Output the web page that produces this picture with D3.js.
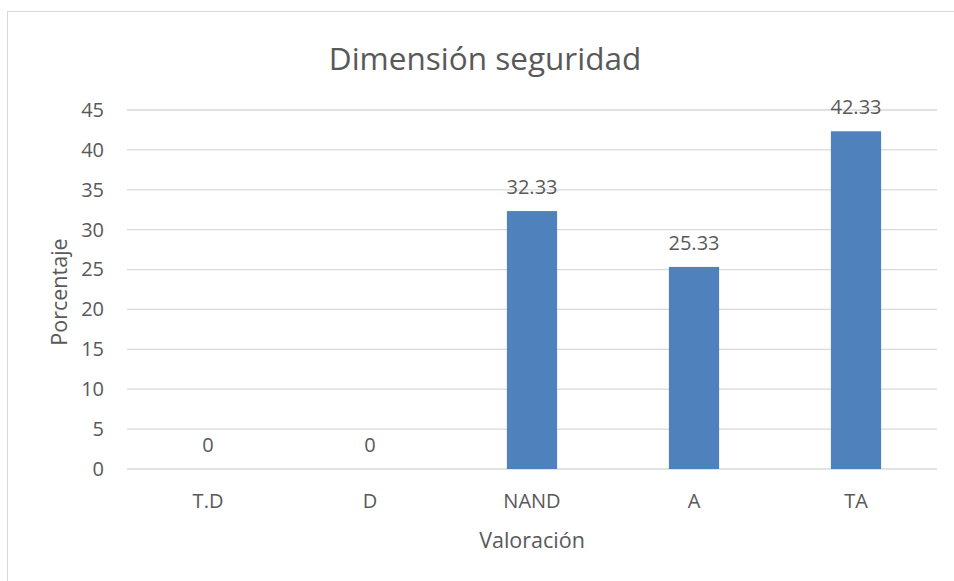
<!DOCTYPE html>
<html>
<head>
<meta charset="utf-8">
<script src="https://cdn.jsdelivr.net/npm/d3@7"></script>
<style>
  body { margin: 0; background: #fff; }
  text { font-family: "Open Sans", sans-serif; fill: #595959; }
</style>
</head>
<body>
<div id="chart"></div>
<script>
// data
const categories = ["T.D", "D", "NAND", "A", "TA"];
const values = [0, 0, 32.33, 25.33, 42.33];
const yTicks = [0, 5, 10, 15, 20, 25, 30, 35, 40, 45];

const W = 954, H = 581;
const margin = {top: 110, right: 17, bottom: 112, left: 127};
const width = W - margin.left - margin.right;
const height = H - margin.top - margin.bottom;

const svg = d3.select("#chart").append("svg")
  .attr("width", W)
  .attr("height", H);

// chart area border
svg.append("rect")
  .attr("x", 7.5).attr("y", 11.5)
  .attr("width", W + 10).attr("height", H + 10)
  .attr("fill", "none")
  .attr("stroke", "#d9d9d9");

const g = svg.append("g")
  .attr("transform", "translate(" + margin.left + "," + margin.top + ")");

const x = d3.scaleBand()
  .domain(categories)
  .range([0, width])
  .paddingInner(0.69)
  .paddingOuter(0.345);

const y = d3.scaleLinear()
  .domain([0, 45])
  .range([height, 0]);

// gridlines
g.selectAll(".grid")
  .data(yTicks)
  .enter().append("line")
    .attr("x1", 0).attr("x2", width)
    .attr("y1", d => y(d)).attr("y2", d => y(d))
    .attr("stroke", "#d9d9d9")
    .attr("stroke-width", 1.3);

// y axis labels
const yAxis = g.append("g")
  .call(d3.axisLeft(y).tickValues(yTicks).tickSize(0).tickPadding(23));
yAxis.select(".domain").remove();
yAxis.selectAll("text")
  .style("font-size", "20px")
  .attr("fill", "#595959");

// x axis labels
const xAxis = g.append("g")
  .attr("transform", "translate(0," + height + ")")
  .call(d3.axisBottom(x).tickSize(0).tickPadding(25));
xAxis.select(".domain").remove();
xAxis.selectAll("text")
  .style("font-size", "20px")
  .attr("fill", "#595959");

// bars
g.selectAll(".bar")
  .data(values)
  .enter().append("rect")
    .attr("x", (d, i) => x(categories[i]))
    .attr("y", d => y(d))
    .attr("width", x.bandwidth())
    .attr("height", d => height - y(d))
    .attr("fill", "#4f81bd");

// data labels
g.selectAll(".lbl")
  .data(values)
  .enter().append("text")
    .attr("x", (d, i) => x(categories[i]) + x.bandwidth() / 2)
    .attr("y", d => y(d) - 17)
    .attr("text-anchor", "middle")
    .style("font-size", "20px")
    .text(d => d);

// title
svg.append("text")
  .attr("x", 485).attr("y", 69.5)
  .attr("text-anchor", "middle")
  .style("font-size", "31.5px")
  .text("Dimensión seguridad");

// axis titles
svg.append("text")
  .attr("x", margin.left + width / 2).attr("y", 548)
  .attr("text-anchor", "middle")
  .style("font-size", "21.5px")
  .text("Valoración");

svg.append("text")
  .attr("transform", "translate(67,292) rotate(-90)")
  .attr("text-anchor", "middle")
  .style("font-size", "21.5px")
  .text("Porcentaje");
</script>
</body>
</html>
